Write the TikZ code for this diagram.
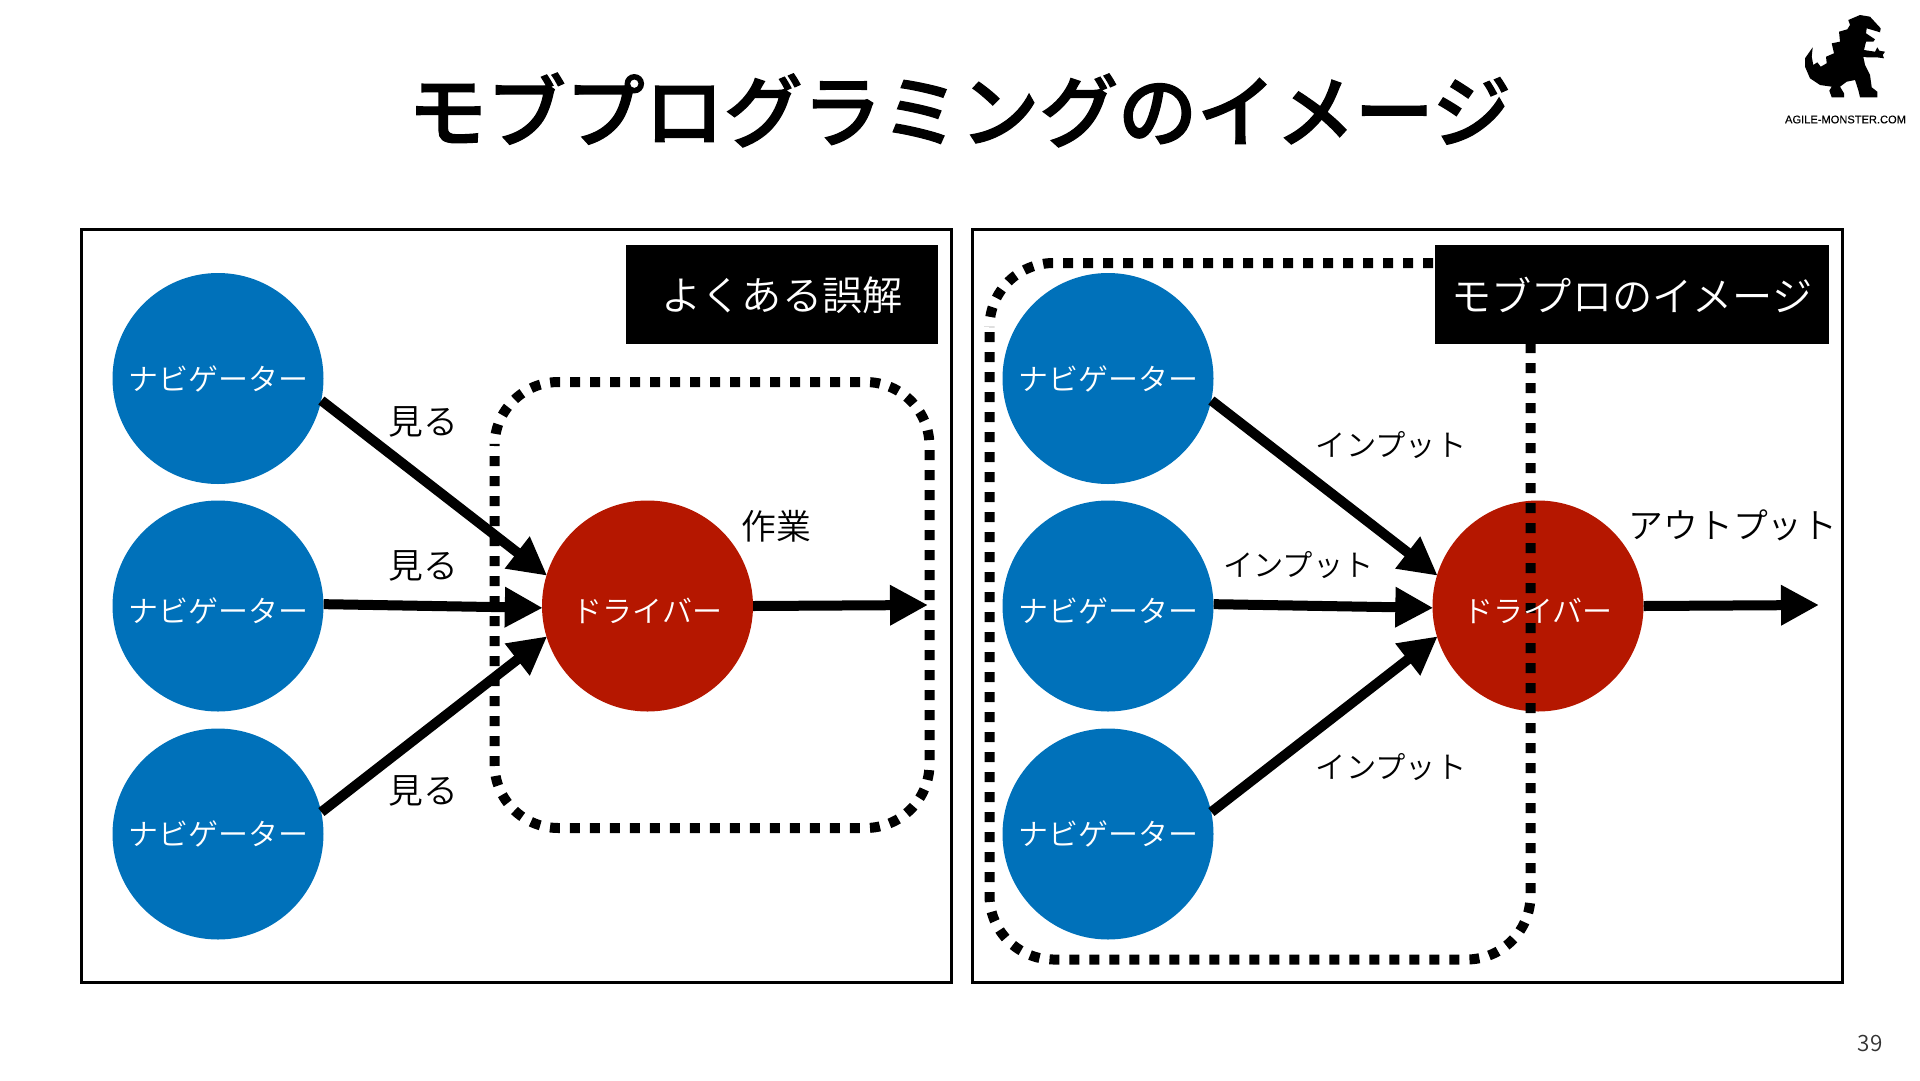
\documentclass[tikz,border=0pt]{standalone}
\usepackage{fontspec}
\setmainfont{Noto Sans CJK JP DemiLight}
\newfontfamily\titlefont[FakeBold=1.6]{Noto Sans CJK JP Medium}
\newfontfamily\latinfont[FakeBold=0.3]{Liberation Sans}
\definecolor{navblue}{HTML}{0071BA}
\definecolor{drvred}{HTML}{B51700}
\usetikzlibrary{arrows.meta}
\newcommand{\lowtext}[1]{\raisebox{0pt}[\dimexpr\height+9.6pt\relax]{#1}}
\tikzset{
  role/.style={circle, inner sep=0pt, minimum size=211pt, text=white, font=\fontsize{30}{32}\selectfont},
  nav/.style={role, fill=navblue},
  drv/.style={role, fill=drvred},
  frame/.style={draw=black, line width=3pt},
  dotbox/.style={draw=black, line width=10pt, dash pattern=on 10pt off 10pt, rounded corners=64pt},
  tagbox/.style={fill=black, text=white, inner sep=0pt, font=\fontsize{40.2}{44}\selectfont},
  link/.style={draw=black, line width=10pt, -{Triangle[length=38pt, width=38pt]}, shorten >=-1pt},
  note/.style={inner sep=0pt, font=\fontsize{34.8}{38}\selectfont},
  small note/.style={inner sep=0pt, font=\fontsize{30.3}{32}\selectfont}
}
\begin{document}
\begin{tikzpicture}[x=1pt, y=-1pt]
  \useasboundingbox (0,0) rectangle (1920,1080);
  \node[inner sep=0pt, font=\fontsize{78.9}{84}\titlefont] (title) at (959.6,110) {モブプログラミングのイメージ};

  % left panel
  \draw[frame] (81,229.5) rectangle (951.5,982);
  \node[nav] (navA) at (218,378.5) {ナビゲーター};
  \node[nav] (navB) at (218,606) {\lowtext{ナビゲーター}};
  \node[nav] (navC) at (218,834) {ナビゲーター};
  \node[drv] (drvL) at (647.5,606) {\lowtext{ドライバー}};
  \draw[dotbox, dash phase=10pt] (494.5,382) rectangle (929.5,828);
  \node[tagbox, minimum width=312pt, minimum height=99pt] (tagL) at (782,294.5) {\raisebox{0pt}[\dimexpr\height+1.6pt\relax]{よくある誤解}};
  \coordinate (endL) at (927,605);
  \draw[link] (navA.-12) -- (drvL.163);
  \draw[link] (navB.1) -- (drvL.181);
  \draw[link] (navC.12) -- (drvL.197);
  \draw[link] (drvL.0.5) -- (endL);
  \node[note] (seeA) at (423,422) {見る};
  \node[note] (seeB) at (423,565.5) {見る};
  \node[note] (seeC) at (423,791) {見る};
  \node[note] (work) at (776.5,526.5) {作業};

  % right panel
  \draw[frame] (972,229.5) rectangle (1842,982);
  \node[nav] (navD) at (1108,378.5) {ナビゲーター};
  \node[nav] (navE) at (1108,606) {\lowtext{ナビゲーター}};
  \node[nav] (navF) at (1108,834) {ナビゲーター};
  \node[drv] (drvR) at (1538,606) {};
  \draw[dotbox, dash phase=15pt] (989.5,263) rectangle (1530.5,959.5);
  \node[tagbox, minimum width=394pt, minimum height=99pt] (tagR) at (1632,294.5) {モブプロのイメージ};
  \node[role] (drvRtext) at (drvR) {\lowtext{ドライバー}};
  \coordinate (endR) at (1818,605);
  \draw[link] (navD.-12) -- (drvR.163);
  \draw[link] (navE.1) -- (drvR.181);
  \draw[link] (navF.12) -- (drvR.197);
  \draw[link] (drvR.0.5) -- (endR);
  \node[small note] (inA) at (1391,445.5) {インプット};
  \node[small note] (inB) at (1298.5,565.5) {インプット};
  \node[small note] (inC) at (1391,767.5) {インプット};
  \node[note] (output) at (1733,525) {アウトプット};

  % logo
  \fill[black] (1848.3,20) -- (1860,15) -- (1870,16.7) -- (1880.7,28.3) -- (1880,32.3) -- (1866.7,28.3) -- (1866,33.3) -- (1875,39.3) -- (1873.3,41.7) -- (1866,41.7) -- (1864,50) -- (1875,51.7) -- (1877.3,47.3) -- (1879.3,50.7) -- (1885,51.7) -- (1882.7,55) -- (1884,58.3) -- (1876.7,57.3) -- (1866.7,57.3) -- (1863.3,56.7) -- (1865,65) -- (1870,75) -- (1871.7,87.3) -- (1877.3,91.7) -- (1877.3,97.3) -- (1860,97.3) -- (1858.3,90) -- (1855,80) -- (1846.7,81.7) -- (1840,86.7) -- (1844,93.3) -- (1844,97.3) -- (1831.7,97.3) -- (1829.3,90.7) -- (1831.7,86.7) -- (1820,85) -- (1810,78.3) -- (1805,66.7) -- (1805,58.3) -- (1812.7,47.3) -- (1811.7,56.7) -- (1813.3,65) -- (1817.3,62.3) -- (1820.7,66.7) -- (1826.7,63.3) -- (1826,56.7) -- (1834,53.3) -- (1831.7,43.3) -- (1840,41.7) -- (1839,31.7) -- (1847.3,29.3) -- (1850,25) -- cycle;
  \node[inner sep=0pt, font=\fontsize{11.1}{13}\latinfont] (brand) at (1845.5,119.5) {AGILE-MONSTER.COM};
  \node[inner sep=0pt, text=black!80, font=\fontsize{22.5}{26}\selectfont] (page) at (1870,1043.5) {39};
\end{tikzpicture}
\end{document}
